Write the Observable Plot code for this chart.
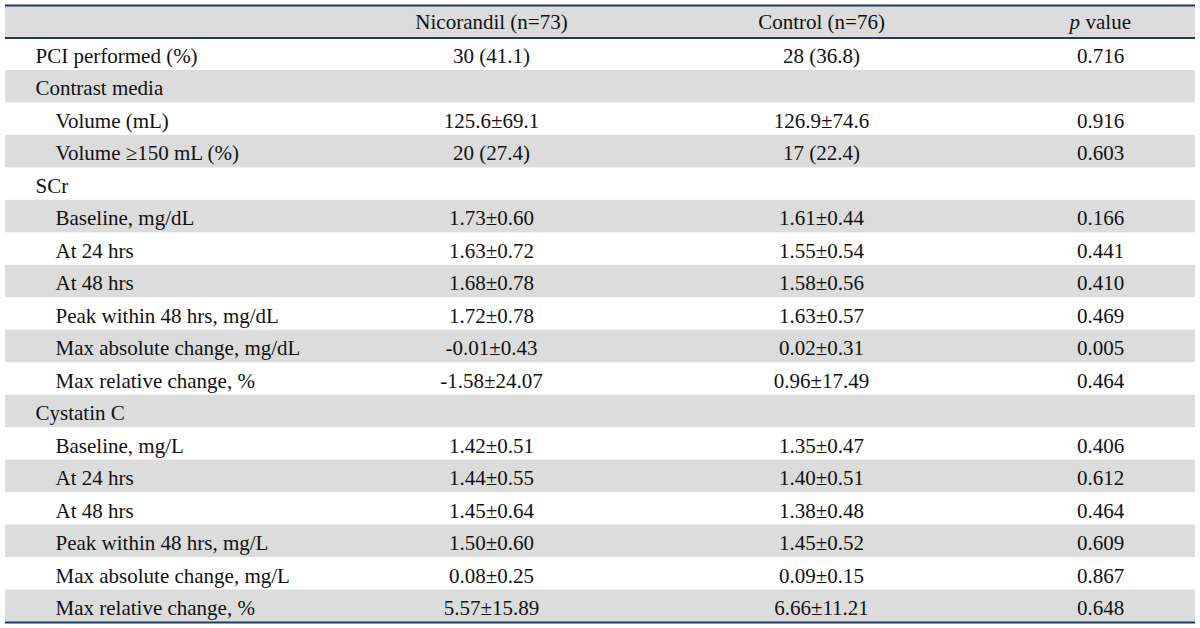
<!DOCTYPE html>
<html>
<head>
<meta charset="utf-8">
<script src="https://cdn.jsdelivr.net/npm/d3@7"></script>
<script src="https://cdn.jsdelivr.net/npm/@observablehq/plot@0.6"></script>
<style>
  html, body { margin: 0; padding: 0; background: #ffffff; }
  #chart svg { display: block; }
  #chart svg text { font-family: "Liberation Serif", "Times New Roman", serif !important; font-size: 21px; }
</style>
</head>
<body>
<div id="chart"></div>
<script>
// ---- data ----
const headers = ["Nicorandil (n=73)", "Control (n=76)"];
const labels = [
  "PCI performed (%)", "Contrast media", "Volume (mL)", "Volume \u2265150 mL (%)",
  "SCr", "Baseline, mg/dL", "At 24 hrs", "At 48 hrs", "Peak within 48 hrs, mg/dL",
  "Max absolute change, mg/dL", "Max relative change, %",
  "Cystatin C", "Baseline, mg/L", "At 24 hrs", "At 48 hrs", "Peak within 48 hrs, mg/L",
  "Max absolute change, mg/L", "Max relative change, %"
];
const level = [0, 0, 1, 1, 0, 1, 1, 1, 1, 1, 1, 0, 1, 1, 1, 1, 1, 1];
const nicorandil = [
  "30 (41.1)", "", "125.6\u00b169.1", "20 (27.4)",
  "", "1.73\u00b10.60", "1.63\u00b10.72", "1.68\u00b10.78", "1.72\u00b10.78",
  "-0.01\u00b10.43", "-1.58\u00b124.07",
  "", "1.42\u00b10.51", "1.44\u00b10.55", "1.45\u00b10.64", "1.50\u00b10.60",
  "0.08\u00b10.25", "5.57\u00b115.89"
];
const control = [
  "28 (36.8)", "", "126.9\u00b174.6", "17 (22.4)",
  "", "1.61\u00b10.44", "1.55\u00b10.54", "1.58\u00b10.56", "1.63\u00b10.57",
  "0.02\u00b10.31", "0.96\u00b117.49",
  "", "1.35\u00b10.47", "1.40\u00b10.51", "1.38\u00b10.48", "1.45\u00b10.52",
  "0.09\u00b10.15", "6.66\u00b111.21"
];
const pvalues = [
  "0.716", "", "0.916", "0.603",
  "", "0.166", "0.441", "0.410", "0.469",
  "0.005", "0.464",
  "", "0.406", "0.612", "0.464", "0.609",
  "0.867", "0.648"
];

// ---- layout ----
const W = 1200, H = 628;
const left = 5, right = 1195;
const colX = { nic: 491, ctl: 821, p: 1100 };
const indentX = [35, 55];
const font = "Liberation Serif";
const fs = 21;
const lineColor = "#233a5e";
const shade = "#dcdcdc";

const rows = labels.map((label, i) => ({
  row: i + 1, label, level: level[i],
  nic: nicorandil[i], ctl: control[i], p: pvalues[i]
}));
const nRows = rows.length + 1; // + header
const shaded = [{row: 0}].concat(rows.filter(d => d.row % 2 === 0));

const textOpts = {fontFamily: font, fontSize: fs, fill: "#111", dy: 1};

const chart = Plot.plot({
  width: W, height: H,
  margin: 0,
  style: {fontFamily: font, fontSize: fs + "px", background: "#fff"},
  x: {type: "linear", domain: [0, W], range: [0, W], axis: null},
  y: {type: "linear", domain: [0, nRows], range: [5, 622], axis: null},
  marks: [
    Plot.rect(shaded, {x1: left, x2: right, y1: d => d.row, y2: d => d.row + 1, fill: shade}),
    Plot.ruleY([0, 1, nRows], {x1: left, x2: right, stroke: lineColor, strokeWidth: 2}),
    // header
    Plot.text([headers[0]], {x: colX.nic, y: 0.5, text: d => d, textAnchor: "middle", ...textOpts}),
    Plot.text([headers[1]], {x: colX.ctl, y: 0.5, text: d => d, textAnchor: "middle", ...textOpts}),
    Plot.text(["p"], {x: colX.p - 20.5, y: 0.5, text: d => d, textAnchor: "end", fontStyle: "italic", ...textOpts}),
    Plot.text(["value"], {x: colX.p - 15, y: 0.5, text: d => d, textAnchor: "start", ...textOpts}),
    // body
    Plot.text(rows, {x: d => indentX[d.level], y: d => d.row + 0.5, text: "label", textAnchor: "start", ...textOpts, dy: 2}),
    Plot.text(rows, {x: colX.nic, y: d => d.row + 0.5, text: "nic", textAnchor: "middle", ...textOpts, dy: 2}),
    Plot.text(rows, {x: colX.ctl, y: d => d.row + 0.5, text: "ctl", textAnchor: "middle", ...textOpts, dy: 2}),
    Plot.text(rows, {x: colX.p, y: d => d.row + 0.5, text: "p", textAnchor: "middle", ...textOpts, dy: 2})
  ]
});
document.getElementById("chart").appendChild(chart);
</script>
</body>
</html>
